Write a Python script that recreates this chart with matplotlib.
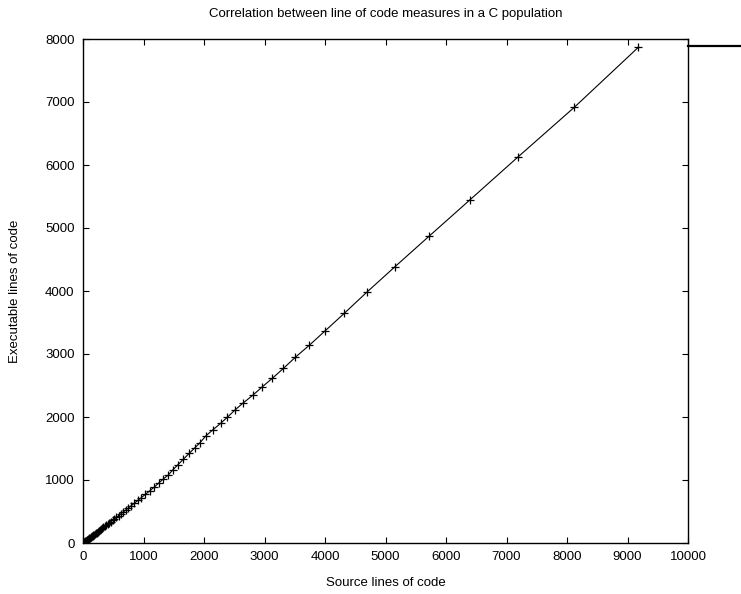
import matplotlib
matplotlib.use("Agg")
import matplotlib.pyplot as plt
from matplotlib.lines import Line2D

plt.rcParams['font.family'] = ['Liberation Sans', 'DejaVu Sans']

# source lines of code vs executable lines of code
sloc = [4, 10, 17, 24, 31, 38, 45, 53, 61, 69, 77, 86, 95, 104, 114, 124,
        135, 146, 158, 170, 183, 197, 211, 226, 242, 259, 277, 296, 316, 337,
        359, 382, 406, 432, 460, 489, 520, 553, 588, 625, 665, 707, 752, 800,
        850, 905, 965, 1030, 1100, 1174, 1256, 1327, 1410, 1483, 1565, 1658,
        1757, 1851, 1934, 2028, 2144, 2276, 2385, 2512, 2640, 2805, 2964,
        3129, 3311, 3509, 3740, 4005, 4319, 4689, 5157, 5724, 6402, 7195,
        8121, 9179]
eloc = [3, 7, 12, 17, 22, 27, 32, 38, 44, 49, 55, 62, 68, 75, 82, 89,
        97, 105, 114, 123, 133, 143, 153, 164, 176, 189, 202, 216, 231, 247,
        263, 280, 298, 317, 338, 360, 383, 408, 434, 462, 492, 524, 558, 595,
        633, 675, 721, 771, 826, 884, 957, 1016, 1079, 1159, 1238, 1329,
        1424, 1513, 1592, 1698, 1794, 1900, 1995, 2111, 2217, 2344, 2479,
        2614, 2770, 2948, 3138, 3370, 3646, 3979, 4386, 4873, 5452, 6132,
        6916, 7868]

x_ticks = list(range(0, 10001, 1000))
y_ticks = list(range(0, 8001, 1000))

fig = plt.figure(figsize=(7.41, 5.94), dpi=100)
ax = fig.add_axes([83 / 741, 51 / 594, 605 / 741, 504 / 594])

ax.plot(sloc, eloc, color='black', linewidth=0.8, marker='+',
        markersize=5.5, markeredgewidth=0.9)

ax.set_xlim(0, 10000)
ax.set_ylim(0, 8000)
ax.set_xticks(x_ticks)
ax.set_yticks(y_ticks)
ax.tick_params(direction='in', length=4.5, width=0.8, top=True, right=True,
               labelsize=9.5, pad=6, colors='black')
for s in ax.spines.values():
    s.set_linewidth(1.0)

ax.set_xlabel('Source lines of code', fontsize=9.5, labelpad=10)
ax.set_ylabel('Executable lines of code', fontsize=9.5, labelpad=17)
ax.set_title('Correlation between line of code measures in a C population',
             fontsize=9.5, pad=16)

# key sample line left over at the top right, outside the plot
fig.add_artist(Line2D([688 / 741, 1.0], [548.3 / 594, 548.3 / 594],
                      color='black', linewidth=1.6))

plt.savefig('out.png', dpi=100)
plt.close()
